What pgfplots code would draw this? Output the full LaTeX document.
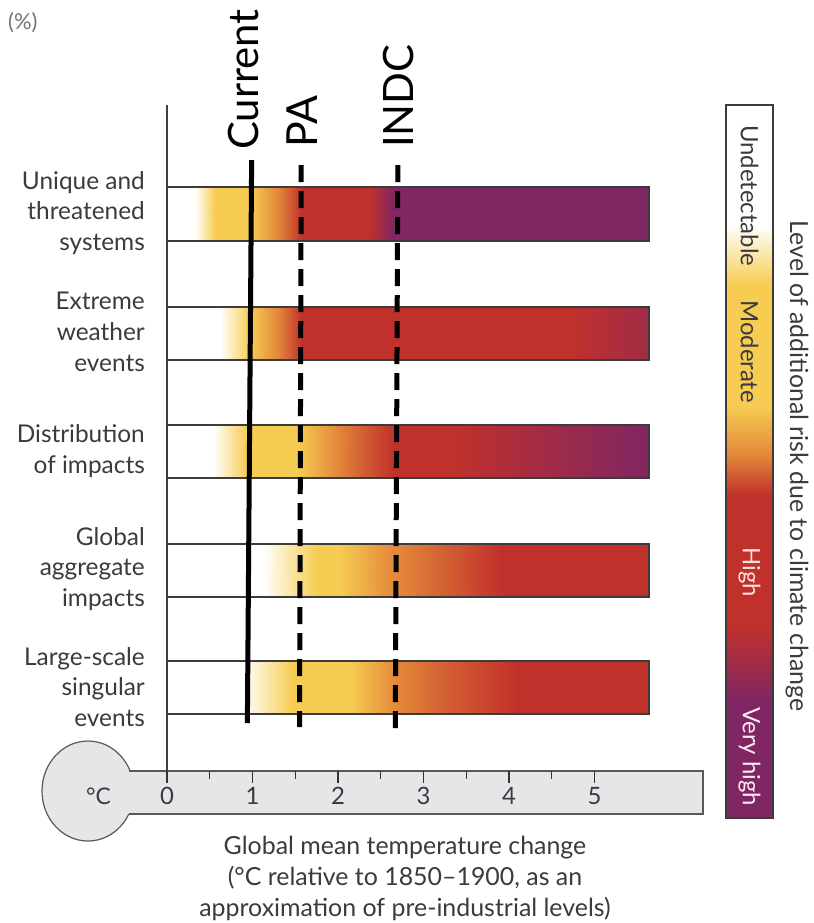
\documentclass[border=0pt]{standalone}
\usepackage{fontspec}
\setmainfont{Lato}
\usepackage{pgfplots}
\pgfplotsset{compat=1.18}
\definecolor{labelgray}{HTML}{3A3A40}
\definecolor{thermo}{HTML}{E6E6E8}
\definecolor{edgegray}{HTML}{3C3C3C}
\pgfplotsset{
  colormap={risk}{rgb255(0cm)=(255,255,255) rgb255(1cm)=(246,205,82) rgb255(2cm)=(227,135,58) rgb255(3cm)=(193,49,43) rgb255(4cm)=(128,38,98)}
}
\begin{document}
\begin{tikzpicture}
\useasboundingbox (0,0) rectangle (814bp,-923bp);
\begin{axis}[
  name=canvas, at={(0,0)}, anchor=north west,
  scale only axis, width=814bp, height=923bp,
  xmin=-1.95322, xmax=7.56725, ymin=0, ymax=923, y dir=reverse,
  axis lines=none, clip=false,
  colormap name=risk, point meta min=0, point meta max=4,
]
% thermometer
\draw[fill=thermo, draw=black!65, line width=1.2bp] (axis cs:-0.924,791) ellipse [x radius=46bp, y radius=50bp];
\fill[thermo] (axis cs:-0.52,771) rectangle (axis cs:6.269,814);
\draw[black!65, line width=1.2bp] (axis cs:-0.44,771) -- (axis cs:6.269,771) -- (axis cs:6.269,814) -- (axis cs:-0.45,814);
\node[text=labelgray, font=\fontsize{23}{23}\selectfont] at (axis cs:-0.80,796) {°C};
% vertical axis line
\draw[black!75, line width=1.2bp] (axis cs:0,105) -- (axis cs:0,771);

% bars (risk level along temperature)
\addplot[surf, shader=interp, point meta=explicit] table[meta=m] {
x y m
0 187 0
0.33 187 0
0.56 187 1
0.97 187 1
1.30 187 2
1.58 187 3
2.35 187 3
2.65 187 4
5.64 187 4

0 241 0
0.33 241 0
0.56 241 1
0.97 241 1
1.30 241 2
1.58 241 3
2.35 241 3
2.65 241 4
5.64 241 4
};
\addplot[surf, shader=interp, point meta=explicit] table[meta=m] {
x y m
0 307 0
0.62 307 0
0.97 307 1
1.30 307 2
1.58 307 3
4.70 307 3
5.64 307 3.5

0 360 0
0.62 360 0
0.97 360 1
1.30 360 2
1.58 360 3
4.70 360 3
5.64 360 3.5
};
\addplot[surf, shader=interp, point meta=explicit] table[meta=m] {
x y m
0 425 0
0.54 425 0
0.94 425 1
1.52 425 1
2.00 425 2
2.37 425 2.6
2.65 425 3
3.30 425 3
5.64 425 4

0 478 0
0.54 478 0
0.94 478 1
1.52 478 1
2.00 478 2
2.37 478 2.6
2.65 478 3
3.30 478 3
5.64 478 4
};
\addplot[surf, shader=interp, point meta=explicit] table[meta=m] {
x y m
0 544 0
1.12 544 0
1.75 544 1
2.00 544 1
2.60 544 1.9
3.30 544 2.5
3.90 544 3
5.64 544 3

0 597 0
1.12 597 0
1.75 597 1
2.00 597 1
2.60 597 1.9
3.30 597 2.5
3.90 597 3
5.64 597 3
};
\addplot[surf, shader=interp, point meta=explicit] table[meta=m] {
x y m
0 661 0
0.89 661 0
1.47 661 1
2.14 661 1
2.69 661 2
3.31 661 2.5
4.09 661 3
5.64 661 3

0 714 0
0.89 714 0
1.47 714 1
2.14 714 1
2.69 714 2
3.31 714 2.5
4.09 714 3
5.64 714 3
};
% bar outlines
\addplot[edgegray, line width=1.8bp, mark=none] coordinates {(0,187) (5.64,187) (5.64,241) (0,241)} -- cycle;
\addplot[edgegray, line width=1.8bp, mark=none] coordinates {(0,307) (5.64,307) (5.64,360) (0,360)} -- cycle;
\addplot[edgegray, line width=1.8bp, mark=none] coordinates {(0,425) (5.64,425) (5.64,478) (0,478)} -- cycle;
\addplot[edgegray, line width=1.8bp, mark=none] coordinates {(0,544) (5.64,544) (5.64,597) (0,597)} -- cycle;
\addplot[edgegray, line width=1.8bp, mark=none] coordinates {(0,661) (5.64,661) (5.64,714) (0,714)} -- cycle;

% colour scale
\addplot[surf, shader=interp, point meta=explicit] table[meta=m] {
x y m
6.5380 105 0
7.0877 105 0

6.5380 225 0
7.0877 225 0

6.5380 285 1
7.0877 285 1

6.5380 405 1
7.0877 405 1

6.5380 455 2
7.0877 455 2

6.5380 495 3
7.0877 495 3

6.5380 625 3
7.0877 625 3

6.5380 700 4
7.0877 700 4

6.5380 818 4
7.0877 818 4
};
\addplot[edgegray, line width=1.5bp, mark=none] coordinates {(6.5380,105) (7.0877,105) (7.0877,818) (6.5380,818)} -- cycle;

% reference lines
\addplot[black, line width=5bp, mark=none] coordinates {(0.99,160) (0.94,723)};
\addplot[black, line width=5bp, mark=none, dash pattern=on 17bp off 9bp] coordinates {(1.57,165) (1.55,727)};
\addplot[black, line width=5bp, mark=none, dash pattern=on 17bp off 9bp] coordinates {(2.70,165) (2.67,730)};

% labels of reference lines
\node[rotate=90, anchor=west, inner sep=0pt, font=\fontsize{42}{42}\selectfont] at (axis cs:0.89,150) {Current};
\node[rotate=90, anchor=west, inner sep=0pt, font=\fontsize{43}{43}\selectfont] at (axis cs:1.58,148) {PA};
\node[rotate=90, anchor=west, inner sep=0pt, font=\fontsize{42}{42}\selectfont] at (axis cs:2.71,148) {INDC};

% category labels
\begin{scope}[every node/.style={align=right, anchor=east, inner sep=0pt, text=labelgray, font=\fontsize{24.5}{31}\selectfont}]
\node at (axis cs:-0.2573,213) {Unique and\\threatened\\systems};
\node at (axis cs:-0.2573,332) {Extreme\\weather\\events};
\node at (axis cs:-0.2573,451) {Distribution\\of impacts};
\node at (axis cs:-0.2573,569) {Global\\aggregate\\impacts};
\node at (axis cs:-0.2573,687) {Large-scale\\singular\\events};
\end{scope}

% colour scale labels
\begin{scope}[every node/.style={rotate=-90, anchor=west, inner sep=0pt, font=\fontsize{24}{24}\selectfont}]
\node[text=labelgray] at (axis cs:6.8128,125) {Undetectable};
\node[text=labelgray] at (axis cs:6.8128,300) {Moderate};
\node[text=red!12!white] at (axis cs:6.8128,547) {High};
\node[text=magenta!8!white] at (axis cs:6.8128,707) {Very high};
\end{scope}
\node[rotate=-90, anchor=center, inner sep=0pt, text=labelgray, font=\fontsize{25}{25}\selectfont] at (axis cs:7.368,466) {Level of additional risk due to climate change};

% x title
\node[align=center, text=labelgray, font=\fontsize{25}{31}\selectfont, anchor=north, inner sep=0pt] at (axis cs:2.7836,836) {Global mean temperature change\\(°C relative to 1850–1900, as an\\approximation of pre-industrial levels)};
\node[anchor=west, inner sep=0pt, text=black!55, font=\fontsize{22}{22}\selectfont] at (axis cs:-1.8596,23) {(\%)};
\end{axis}

% scale on the thermometer
\begin{axis}[
  at={(167bp,-771bp)}, anchor=north west,
  scale only axis, width=513bp, height=43bp,
  xmin=0, xmax=6, ymin=0, ymax=1,
  axis y line=none, axis x line*=top, x axis line style={draw=none},
  xtick={0,1,2,3,4,5}, minor xtick={0.5,1.5,2.5,3.5,4.5},
  tick align=inside, major tick length=12bp, minor tick length=8bp,
  tick style={line width=1.2bp, black!80},
  /pgf/number format/assume math mode=true,
  xticklabel style={anchor=center, yshift=-25bp, text=labelgray, font=\fontsize{24}{24}\selectfont},
]
\end{axis}
\end{tikzpicture}
\end{document}
